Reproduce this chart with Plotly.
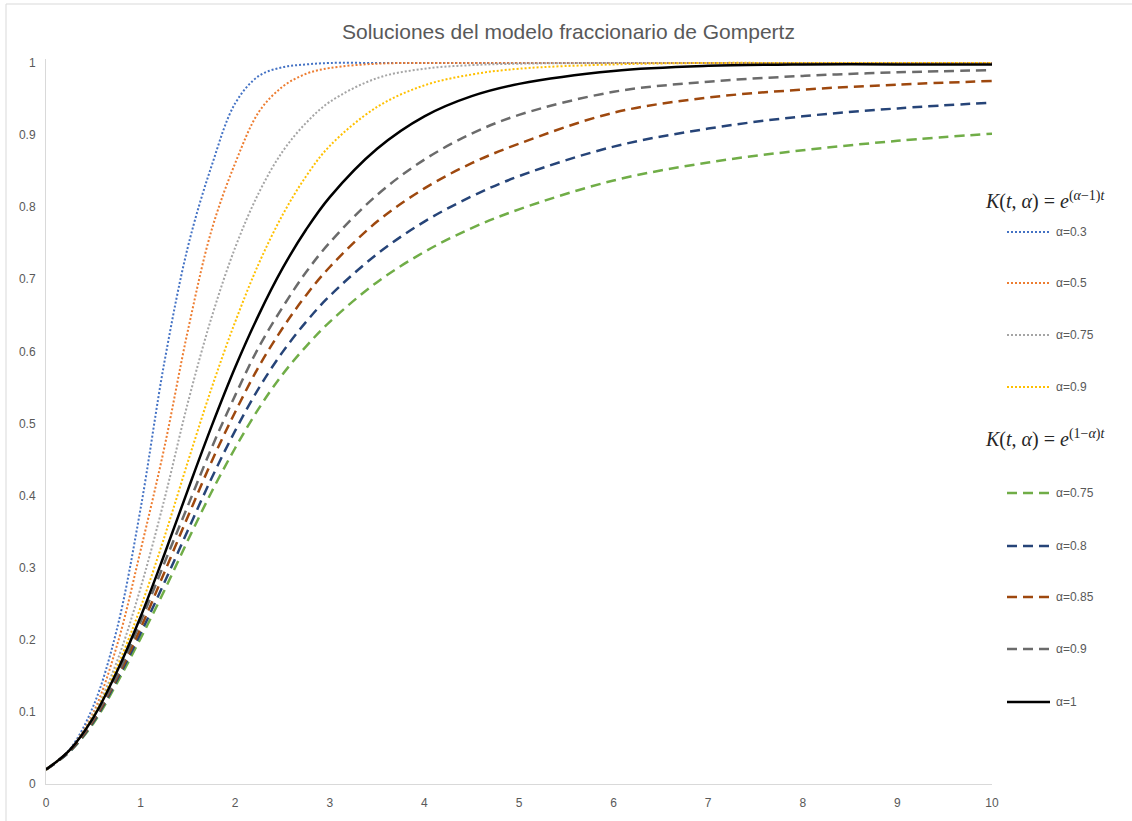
import plotly.graph_objects as go

# ---------------- data ----------------
t = [0, 0.25, 0.5, 0.75, 1, 1.25, 1.5, 1.75, 2, 2.25, 2.5, 2.75, 3, 3.5, 4, 4.5, 5, 6, 7, 8, 9, 10]

# K(t,a) = e^{(a-1)t}
dot_a03 = [0.02, 0.048, 0.108, 0.215, 0.382, 0.584, 0.745, 0.857, 0.944, 0.982, 0.994, 0.998, 1, 1, 1, 1, 1, 1, 1, 1, 1, 1]
dot_a05 = [0.02, 0.047, 0.099, 0.192, 0.324, 0.466, 0.629, 0.768, 0.861, 0.932, 0.967, 0.985, 0.993, 0.999, 1, 1, 1, 1, 1, 1, 1, 1]
dot_a075 = [0.02, 0.047, 0.096, 0.170, 0.272, 0.394, 0.529, 0.647, 0.744, 0.820, 0.877, 0.917, 0.946, 0.979, 0.992, 0.997, 0.999, 1, 1, 1, 1, 1]
dot_a09 = [0.02, 0.047, 0.094, 0.162, 0.245, 0.342, 0.447, 0.549, 0.641, 0.722, 0.789, 0.843, 0.885, 0.939, 0.969, 0.984, 0.992, 0.998, 1, 1, 1, 1]

# K(t,a) = e^{(1-a)t}
dash_a075 = [0.02, 0.045, 0.084, 0.140, 0.202, 0.268, 0.338, 0.405, 0.466, 0.521, 0.568, 0.607, 0.641, 0.696, 0.738, 0.771, 0.797, 0.837, 0.862, 0.879, 0.892, 0.902]
dash_a08 = [0.02, 0.045, 0.086, 0.144, 0.209, 0.279, 0.352, 0.424, 0.490, 0.549, 0.599, 0.641, 0.677, 0.735, 0.780, 0.815, 0.843, 0.884, 0.909, 0.926, 0.937, 0.945]
dash_a085 = [0.02, 0.046, 0.088, 0.147, 0.216, 0.293, 0.371, 0.447, 0.516, 0.579, 0.632, 0.678, 0.717, 0.780, 0.826, 0.861, 0.888, 0.931, 0.952, 0.963, 0.970, 0.975]
dash_a09 = [0.02, 0.047, 0.090, 0.150, 0.225, 0.306, 0.386, 0.466, 0.539, 0.606, 0.661, 0.710, 0.751, 0.817, 0.866, 0.902, 0.928, 0.960, 0.974, 0.982, 0.987, 0.990]
solid_a1 = [0.02, 0.047, 0.092, 0.156, 0.232, 0.318, 0.408, 0.496, 0.578, 0.651, 0.715, 0.769, 0.814, 0.881, 0.926, 0.954, 0.971, 0.989, 0.996, 0.998, 0.998, 0.998]

x_ticks = [0, 1, 2, 3, 4, 5, 6, 7, 8, 9, 10]
x_ticktext = ["0", "1", "2", "3", "4", "5", "6", "7", "8", "9", "10"]
y_ticks = [0, 0.1, 0.2, 0.3, 0.4, 0.5, 0.6, 0.7, 0.8, 0.9, 1]
y_ticktext = ["0", "0.1", "0.2", "0.3", "0.4", "0.5", "0.6", "0.7", "0.8", "0.9", "1"]

title_text = "Soluciones del modelo fraccionario de Gompertz"
header1 = "<i>K</i>(<i>t</i>, <i>α</i>) = <i>e</i><sup>(<i>α</i>−1)<i>t</i></sup>"
header2 = "<i>K</i>(<i>t</i>, <i>α</i>) = <i>e</i><sup>(1−<i>α</i>)<i>t</i></sup>"

# (name, values, colour, width, dash)
series = [
    ("α=0.3", dot_a03, "#4472C4", 2, "2px,2px"),
    ("α=0.5", dot_a05, "#ED7D31", 2, "2px,2px"),
    ("α=0.75", dot_a075, "#A5A5A5", 2, "2px,2px"),
    ("α=0.9", dot_a09, "#FFC000", 2, "2px,2px"),
    ("α=0.75", dash_a075, "#70AD47", 2.5, "10px,6px"),
    ("α=0.8", dash_a08, "#264478", 2.5, "10px,6px"),
    ("α=0.85", dash_a085, "#9E480E", 2.5, "10px,6px"),
    ("α=0.9", dash_a09, "#6B6B6B", 2.5, "10px,6px"),
    ("α=1", solid_a1, "#000000", 2.5, "solid"),
]

W, H = 1132, 821
L, R, T, B = 46, 140, 59, 37
pw, ph = W - L - R, H - T - B
YMAX = 1.0055


def px2x(px):
    return (px - L) / pw


def py2y(py):
    return (H - B - py) / ph


fig = go.Figure()
for name, vals, col, wd, dash in series:
    fig.add_trace(go.Scatter(
        x=t, y=vals, mode="lines", name=name,
        line=dict(color=col, width=wd, dash=dash, shape="spline", smoothing=1.0),
        showlegend=False, hoverinfo="x+y+name"))

annotations = []
shapes = []

# chart border (light grey frame)
shapes.append(dict(type="rect", xref="paper", yref="paper",
                   x0=px2x(6), x1=px2x(1300), y0=py2y(1000), y1=py2y(4),
                   line=dict(color="#D9D9D9", width=1), fillcolor="rgba(0,0,0,0)", layer="below"))

# title
annotations.append(dict(text=title_text, xref="paper", yref="paper",
                        x=px2x(568), y=py2y(31), xanchor="center", yanchor="middle",
                        showarrow=False, font=dict(family="Liberation Sans, Arial", size=21, color="#595959")))

# legend headers
for txt, py in [(header1, 200), (header2, 438)]:
    annotations.append(dict(text=txt, xref="paper", yref="paper",
                            x=px2x(983), y=py2y(py), xanchor="left", yanchor="middle",
                            showarrow=False,
                            font=dict(family="Liberation Serif, DejaVu Serif, serif", size=20, color="#262626")))

legend_y = [232, 283, 335, 387, 493, 546, 597, 649, 702]
for (name, vals, col, wd, dash), py in zip(series, legend_y):
    yy = py2y(py)
    shapes.append(dict(type="line", xref="paper", yref="paper",
                       x0=px2x(1007), x1=px2x(1050), y0=yy, y1=yy,
                       line=dict(color=col, width=wd, dash=dash)))
    annotations.append(dict(text=name, xref="paper", yref="paper",
                            x=px2x(1054), y=yy, xanchor="left", yanchor="middle",
                            showarrow=False,
                            font=dict(family="Liberation Sans, Arial", size=12, color="#595959")))

fig.update_layout(
    width=W, height=H,
    margin=dict(l=L, r=R, t=T, b=B, pad=0, autoexpand=False),
    paper_bgcolor="white", plot_bgcolor="white",
    showlegend=False,
    annotations=annotations, shapes=shapes,
    font=dict(family="Liberation Sans, Arial", size=12, color="#595959"),
)
fig.update_xaxes(range=[0, 10], tickvals=x_ticks, ticktext=x_ticktext, automargin=False,
                 showgrid=False, zeroline=False, showline=True, linecolor="#D9D9D9", linewidth=1,
                 ticks="", ticklabelstandoff=8,
                 tickfont=dict(family="Liberation Sans, Arial", size=12, color="#595959"))
fig.update_yaxes(range=[0, YMAX], tickvals=y_ticks, ticktext=y_ticktext, automargin=False,
                 showgrid=False, zeroline=False, showline=True, linecolor="#D9D9D9", linewidth=1,
                 ticks="", ticklabelstandoff=7,
                 tickfont=dict(family="Liberation Sans, Arial", size=12, color="#595959"))

fig.write_html("out.html", config={"displayModeBar": False},
               post_script="document.body.style.margin='0px';document.body.style.overflow='hidden';")
